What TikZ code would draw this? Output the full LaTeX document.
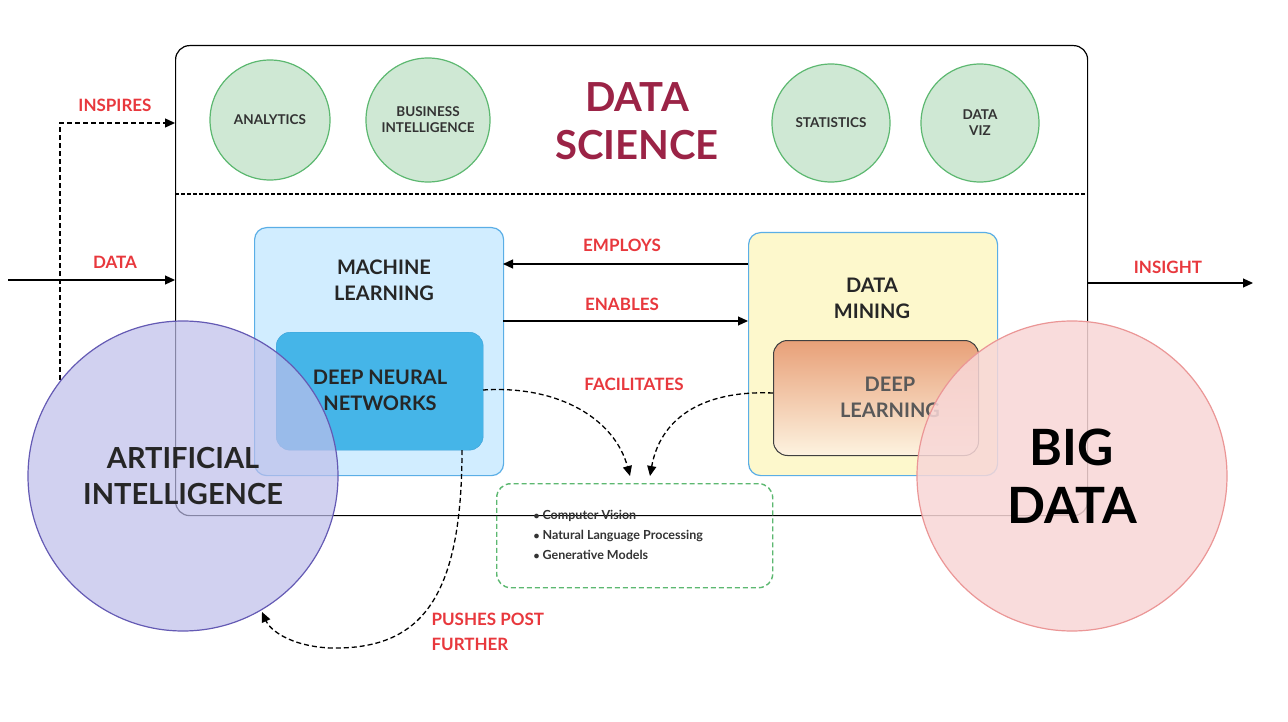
\documentclass[tikz,border=0pt]{standalone}
\usepackage{fontspec}
\setmainfont{Lato}
\usetikzlibrary{arrows.meta}
\definecolor{dsred}{HTML}{9B2346}
\definecolor{lblred}{HTML}{E8383D}
\definecolor{gfill}{HTML}{CFE8D4}
\definecolor{gline}{HTML}{5CB870}
\definecolor{bline}{HTML}{5AAEE6}
\begin{document}
\begin{tikzpicture}[x=1pt,y=-1pt,
  gc/.style={circle,draw=gline,fill=gfill,line width=1.2pt,minimum size=#1,inner sep=0pt,align=center,font=\fontsize{13.5}{16}\selectfont\bfseries,text=black!80},
  lbl/.style={text=lblred,font=\fontsize{17}{20}\selectfont\bfseries},
  arr/.style={-{Triangle[length=10pt,width=9pt]},line width=1.2pt},
  darr/.style={-{Triangle[length=10pt,width=9pt]},line width=1.3pt,dash pattern=on 5pt off 3pt},
  big/.style={align=center,text=black!85,font=\bfseries}]
\useasboundingbox (0,0) rectangle (1288,722);
\fill[white] (0,0) rectangle (1288,722);
% main box
\node[draw,line width=1.2pt,rounded corners=14pt,minimum width=912pt,minimum height=470pt,anchor=north west,inner sep=0pt] (ds) at (175,45) {};
\coordinate (dl) at (175,194); \coordinate (dr) at (1087,194);
\draw[dash pattern=on 4pt off 2pt,line width=1.2pt] (dl) -- (dr);
\node[gc=120pt] (an) at (270,120) {ANALYTICS};
\node[gc=124pt] (bi) at (428,120) {BUSINESS\\INTELLIGENCE};
\node[gc=118pt] (st) at (831,123) {STATISTICS};
\node[gc=118pt] (dv) at (980,123) {DATA\\VIZ};
\node[text=dsred,align=center,font=\fontsize{40}{48}\selectfont\bfseries] (dst) at (637,121) {DATA\\SCIENCE};
% ML box
\node[draw=bline,fill=blue!40!cyan!18,line width=1.2pt,rounded corners=12pt,minimum width=249pt,minimum height=248pt,anchor=north west] (ml) at (254,227) {};
\node[big,font=\fontsize{20}{26}\selectfont\bfseries] (mlt) at (384,280) {MACHINE\\LEARNING};
\node[fill={rgb,255:red,69;green,181;blue,232},draw={rgb,255:red,60;green,160;blue,215},rounded corners=14pt,minimum width=207pt,minimum height=118pt,anchor=north west] (dnn) at (276,332) {};
\node[big,font=\fontsize{20}{26}\selectfont\bfseries] (dnnt) at (380,390) {DEEP NEURAL\\NETWORKS};
% DM box
\node[draw=bline,fill={rgb,255:red,253;green,248;blue,204},line width=1.2pt,rounded corners=12pt,minimum width=249pt,minimum height=243pt,anchor=north west] (dm) at (748,232) {};
\node[big,font=\fontsize{20}{26}\selectfont\bfseries] (dmt) at (872,298) {DATA\\MINING};
\node[draw=black!75,line width=1pt,top color={rgb,255:red,232;green,160;blue,120},bottom color={rgb,255:red,253;green,243;blue,224},rounded corners=14pt,minimum width=205pt,minimum height=115pt,anchor=north west] (dlb) at (773,340) {};
\node[big,font=\fontsize{20}{26}\selectfont\bfseries,text=black!65] (dlt) at (890,397) {DEEP\\LEARNING};
% arrows between boxes
\coordinate (e1) at (748,264); \coordinate (e2) at (503,264);
\draw[arr] (e1) -- (e2);
\node[lbl] at (622,245) {EMPLOYS};
\coordinate (n1) at (503,321); \coordinate (n2) at (748,321);
\draw[arr] (n1) -- (n2);
\node[lbl] at (622,304) {ENABLES};
\node[lbl] at (634,384) {FACILITATES};
% bullet box
\node[draw=gline,dash pattern=on 5pt off 3pt,line width=1.4pt,rounded corners=14pt,minimum width=276pt,minimum height=104pt,anchor=north west] (bb) at (496,483) {};
\node[anchor=west,align=left,font=\fontsize{12.5}{20}\selectfont\bfseries,text=black!80] at (530,535) {$\bullet$ Computer Vision\\$\bullet$ Natural Language Processing\\$\bullet$ Generative Models};
\coordinate (f1) at (483,390); \coordinate (f2) at (630,476);
\draw[darr] (f1) .. controls (560,385) and (615,420) .. (f2);
\coordinate (g1) at (773,393); \coordinate (g2) at (650,476);
\draw[darr] (g1) .. controls (700,390) and (660,420) .. (g2);
% left arrows
\coordinate (d0) at (8,280); \coordinate (d1) at (175,280);
\draw[arr] (d0) -- (d1);
\node[lbl] at (115,262) {DATA};
\coordinate (i0) at (60,380); \coordinate (i1) at (175,123);
\draw[darr] (i0) |- (i1);
\node[lbl] at (115,105) {INSPIRES};
\coordinate (s0) at (1087,283); \coordinate (s1) at (1253,283);
\draw[arr] (s0) -- (s1);
\node[lbl] at (1168,267) {INSIGHT};
% big circles
\node[circle,draw={rgb,255:red,100;green,90;blue,180},line width=1.2pt,fill={rgb,255:red,190;green,190;blue,235},fill opacity=0.7,text opacity=1,minimum size=310pt,big,font=\fontsize{29}{36}\selectfont\bfseries] (ai) at (183,476) {ARTIFICIAL\\INTELLIGENCE};
\node[circle,draw={rgb,255:red,235;green,150;blue,150},line width=1.2pt,fill={rgb,255:red,248;green,215;blue,215},fill opacity=0.85,text opacity=1,minimum size=310pt,big,font=\fontsize{50}{58}\selectfont\bfseries,text=black] (bd) at (1072,476) {BIG\\DATA};
% pushes
\coordinate (p0) at (462,450); \coordinate (p1) at (262,612);
\draw[darr] (p0) .. controls (462,600) and (420,650) .. (330,648) .. controls (290,646) and (270,630) .. (p1);
\node[lbl,anchor=west,align=left,font=\fontsize{17}{25}\selectfont\bfseries] at (428,632) {PUSHES POST\\FURTHER};
\end{tikzpicture}
\end{document}
